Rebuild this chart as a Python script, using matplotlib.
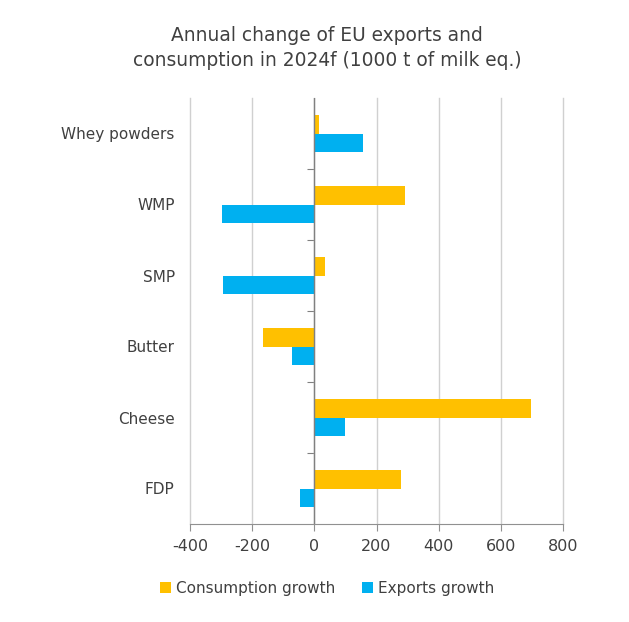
import numpy as np
import matplotlib
matplotlib.use('Agg')
import matplotlib.pyplot as plt

categories = ['Whey powders', 'WMP', 'SMP', 'Butter', 'Cheese', 'FDP']
consumption_growth = [16, 291, 34, -165, 697, 279]
exports_growth = [155, -296, -294, -73, 99, -46]

orange = '#FFC000'
blue = '#00B0F0'
text_col = '#404040'

plt.rcParams['font.family'] = ['DejaVu Sans']
plt.rcParams['axes.unicode_minus'] = False

fig = plt.figure(figsize=(6.29, 6.22), dpi=100)
ax = fig.add_axes([190 / 629, 1 - 524 / 622, (563 - 190) / 629, (524 - 98) / 622])

y = np.arange(len(categories))
h = 0.26
ax.barh(y - h / 2, consumption_growth, height=h, color=orange, label='Consumption growth', zorder=3)
ax.barh(y + h / 2, exports_growth, height=h, color=blue, label='Exports growth', zorder=3)

ax.set_xlim(-400, 800)
ax.set_ylim(len(categories) - 0.5, -0.5)
ax.set_xticks(np.arange(-400, 801, 200))
ax.set_yticks(y)
ax.set_yticklabels(categories)

ax.grid(axis='x', color='#D0D0D0', linewidth=1, zorder=0)
for gl in ax.get_xgridlines():
    gl.set_clip_on(False)
ax.axvline(0, color='#808080', linewidth=1, zorder=4)

for s in ['top', 'right', 'left']:
    ax.spines[s].set_visible(False)
ax.spines['bottom'].set_color('#909090')
ax.tick_params(axis='x', colors='#909090', length=5, labelsize=11.5, labelcolor=text_col, pad=6)
ax.tick_params(axis='y', length=0, labelsize=11, labelcolor=text_col, pad=11)

# small ticks between categories on the zero line
loc0 = (0 - (-400)) / 1200
sec = ax.secondary_yaxis(loc0)
sec.set_yticks(np.arange(0.5, len(categories) - 1, 1.0))
sec.set_yticklabels([])
sec.spines['left'].set_visible(False)
sec.tick_params(axis='y', colors='#808080', length=5, direction='out')

fig.text(327 / 629, 1 - 48 / 622,
         'Annual change of EU exports and\nconsumption in 2024f (1000 t of milk eq.)',
         ha='center', va='center', fontsize=13.4, color=text_col, linespacing=1.4)

fig.legend(loc='center', bbox_to_anchor=(327 / 629, 1 - 588 / 622), ncol=2, frameon=False,
           handlelength=0.7, handleheight=0.7, handletextpad=0.3, columnspacing=1.8,
           fontsize=11, labelcolor=text_col)

fig.savefig('out.png', dpi=100)
